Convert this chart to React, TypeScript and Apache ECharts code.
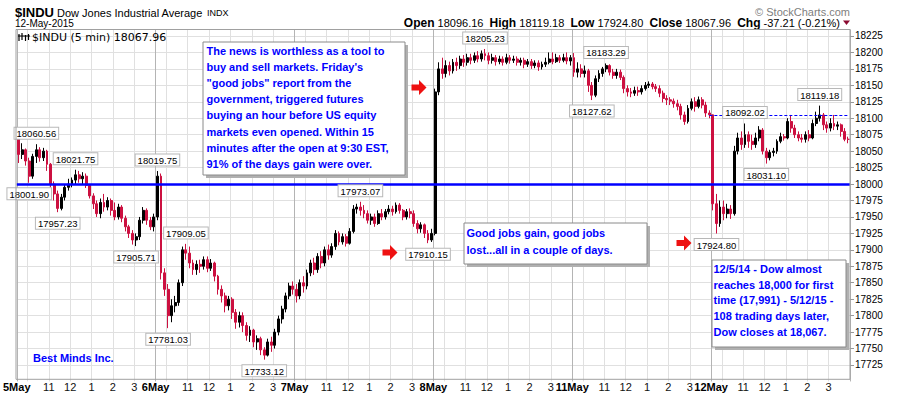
import React, { useEffect, useRef } from 'react';
import * as echarts from 'echarts';

// ---- categories / tick labels ----
const dayLabels = ['5May', '6May', '7May', '8May', '11May', '12May'];
const hourLabels = ['11', '12', '1', '2', '3'];
const hourBarIdx = [9, 15, 21, 27, 33]; // 10-min bars after 9:30 open
const gridBarIdx = [0, 3, 9, 15, 21, 27, 33];
const BARS_PER_DAY = 39;

// ---- 10-minute bars: [open, close, low, high] ----
const may05 = [
  [18070, 18045, 18032, 18070], [18045, 18052, 18038, 18062], [18052, 18035, 18028, 18054], [18035, 18012, 18001.9, 18040],
  [18012, 18042, 18008, 18046], [18042, 18052, 18032, 18060.56], [18052, 18040, 18034, 18056], [18040, 18050, 18035, 18055],
  [18050, 18030, 18020, 18052], [18030, 18000, 17995, 18032], [18000, 17985, 17975, 18004], [17985, 17963, 17957.23, 17990],
  [17963, 17980, 17960, 17985], [17980, 17995, 17975, 18000], [17995, 18000, 17990, 18008], [18000, 18006, 17995, 18010],
  [18006, 18014, 18000, 18021.75], [18014, 18008, 18002, 18020], [18008, 18012, 18000, 18018], [18012, 17998, 17994, 18016],
  [17998, 17982, 17978, 18000], [17982, 17970, 17962, 17986], [17970, 17955, 17950, 17975], [17955, 17972, 17948, 17978],
  [17972, 17965, 17958, 17985], [17965, 17975, 17960, 17980], [17975, 17960, 17952, 17978], [17960, 17950, 17945, 17972],
  [17950, 17965, 17946, 17970], [17965, 17948, 17942, 17968], [17948, 17935, 17928, 17952], [17935, 17925, 17918, 17938],
  [17925, 17915, 17908, 17930], [17915, 17920, 17905.71, 17925], [17920, 17945, 17915, 17950], [17945, 17960, 17940, 17965],
  [17960, 17945, 17938, 17963], [17945, 17935, 17930, 17950], [17935, 17950, 17928, 17955],
];
const may06 = [
  [17950, 18012, 17945, 18019.75], [18012, 17865, 17855, 18016], [17865, 17840, 17830, 17872], [17840, 17800, 17781.03, 17848],
  [17800, 17815, 17790, 17825], [17815, 17820, 17805, 17830], [17820, 17850, 17815, 17855], [17850, 17900, 17845, 17905],
  [17900, 17895, 17885, 17909.05], [17895, 17880, 17872, 17905], [17880, 17870, 17862, 17885], [17870, 17878, 17862, 17884],
  [17878, 17875, 17865, 17885], [17875, 17885, 17870, 17890], [17885, 17872, 17866, 17890], [17872, 17880, 17868, 17886],
  [17880, 17860, 17852, 17882], [17860, 17840, 17832, 17862], [17840, 17830, 17820, 17846], [17830, 17815, 17805, 17835],
  [17815, 17825, 17808, 17830], [17825, 17805, 17795, 17828], [17805, 17790, 17780, 17810], [17790, 17800, 17782, 17806],
  [17800, 17785, 17775, 17805], [17785, 17770, 17762, 17790], [17770, 17778, 17760, 17784], [17778, 17760, 17752, 17780],
  [17760, 17765, 17748, 17770], [17765, 17748, 17740, 17768], [17748, 17740, 17733.12, 17752], [17740, 17760, 17738, 17765],
  [17760, 17755, 17745, 17768], [17755, 17775, 17750, 17780], [17775, 17795, 17770, 17800], [17795, 17810, 17788, 17815],
  [17810, 17830, 17805, 17835], [17830, 17845, 17825, 17850], [17845, 17840, 17832, 17852],
];
const may07 = [
  [17840, 17830, 17820, 17848], [17830, 17850, 17825, 17855], [17850, 17845, 17835, 17860], [17845, 17865, 17840, 17870],
  [17865, 17880, 17860, 17885], [17880, 17870, 17862, 17888], [17870, 17890, 17865, 17895], [17890, 17880, 17872, 17898],
  [17880, 17900, 17875, 17905], [17900, 17892, 17885, 17908], [17892, 17905, 17888, 17910], [17905, 17925, 17900, 17930],
  [17925, 17912, 17907, 17928], [17912, 17920, 17908, 17925], [17920, 17910, 17905, 17924], [17910, 17928, 17908, 17933],
  [17928, 17962, 17925, 17968], [17962, 17965, 17955, 17970], [17965, 17960, 17952, 17973.07], [17960, 17955, 17948, 17968],
  [17955, 17945, 17940, 17960], [17945, 17950, 17938, 17955], [17950, 17940, 17935, 17955], [17940, 17955, 17938, 17960],
  [17955, 17950, 17945, 17962], [17950, 17958, 17946, 17962], [17958, 17962, 17954, 17968], [17962, 17958, 17952, 17967],
  [17958, 17968, 17955, 17972], [17968, 17960, 17955, 17971], [17960, 17950, 17945, 17962], [17950, 17958, 17946, 17962],
  [17958, 17955, 17948, 17963], [17955, 17940, 17935, 17960], [17940, 17932, 17925, 17945], [17932, 17938, 17926, 17942],
  [17938, 17925, 17918, 17940], [17925, 17915, 17910.15, 17930], [17915, 17925, 17912, 17932],
];
const may08 = [
  [17925, 18140, 17922, 18145], [18140, 18175, 18135, 18185], [18175, 18168, 18160, 18192], [18168, 18180, 18162, 18188],
  [18180, 18172, 18165, 18186], [18172, 18185, 18168, 18190], [18185, 18180, 18172, 18192], [18180, 18190, 18175, 18195],
  [18190, 18185, 18178, 18196], [18185, 18192, 18180, 18198], [18192, 18188, 18182, 18198], [18188, 18195, 18184, 18200],
  [18195, 18190, 18185, 18202], [18190, 18198, 18186, 18203], [18198, 18195, 18188, 18205.23], [18195, 18188, 18182, 18200],
  [18188, 18192, 18183, 18198], [18192, 18186, 18180, 18196], [18186, 18190, 18182, 18195], [18190, 18185, 18180, 18194],
  [18185, 18192, 18182, 18198], [18192, 18188, 18183, 18196], [18188, 18190, 18184, 18195], [18190, 18185, 18180, 18194],
  [18185, 18188, 18180, 18192], [18188, 18182, 18176, 18192], [18182, 18186, 18178, 18190], [18186, 18180, 18175, 18190],
  [18180, 18184, 18176, 18188], [18184, 18178, 18172, 18188], [18178, 18182, 18174, 18186], [18182, 18185, 18178, 18192],
  [18185, 18190, 18182, 18200], [18190, 18186, 18182, 18200], [18186, 18192, 18184, 18198], [18192, 18188, 18184, 18196],
  [18188, 18192, 18185, 18198], [18192, 18187, 18182, 18200], [18187, 18192, 18180, 18196],
];
const may11 = [
  [18192, 18170, 18163, 18199], [18170, 18175, 18162, 18185], [18175, 18168, 18162, 18182], [18168, 18172, 18162, 18180],
  [18172, 18150, 18140, 18175], [18150, 18135, 18127.62, 18155], [18135, 18160, 18132, 18165], [18160, 18168, 18155, 18173],
  [18168, 18175, 18163, 18178], [18175, 18180, 18170, 18183.29], [18180, 18170, 18165, 18182], [18170, 18165, 18160, 18175],
  [18165, 18170, 18160, 18175], [18170, 18162, 18158, 18174], [18162, 18145, 18138, 18165], [18145, 18140, 18133, 18150],
  [18140, 18138, 18132, 18146], [18138, 18142, 18134, 18148], [18142, 18140, 18134, 18148], [18140, 18145, 18136, 18150],
  [18145, 18150, 18142, 18155], [18150, 18152, 18146, 18156], [18152, 18148, 18144, 18155], [18148, 18145, 18140, 18152],
  [18145, 18138, 18132, 18150], [18138, 18130, 18124, 18142], [18130, 18128, 18120, 18135], [18128, 18126, 18120, 18132],
  [18126, 18122, 18116, 18130], [18122, 18118, 18112, 18128], [18118, 18105, 18098, 18122], [18105, 18095, 18090, 18110],
  [18095, 18115, 18092, 18120], [18115, 18125, 18112, 18130], [18125, 18118, 18110, 18132], [18118, 18128, 18115, 18133],
  [18128, 18120, 18115, 18132], [18120, 18108, 18102, 18125], [18108, 18105.17, 18100, 18112],
];
const may12 = [
  [18105.17, 17970, 17960, 18105.17], [17970, 17940, 17924.8, 17985], [17940, 17965, 17935, 17975], [17965, 17955, 17945, 17975],
  [17955, 17962, 17948, 17970], [17962, 17955, 17947, 17968], [17955, 18050, 17952, 18058], [18050, 18070, 18045, 18078],
  [18070, 18060, 18052, 18080], [18060, 18075, 18055, 18092.02], [18075, 18065, 18055, 18080], [18065, 18060, 18052, 18075],
  [18060, 18070, 18055, 18078], [18070, 18082, 18065, 18088], [18082, 18050, 18045, 18085], [18050, 18040, 18031.1, 18055],
  [18040, 18048, 18036, 18052], [18048, 18050, 18042, 18055], [18050, 18065, 18046, 18068], [18065, 18072, 18062, 18078],
  [18072, 18070, 18066, 18076], [18070, 18095, 18068, 18100], [18095, 18085, 18078, 18105], [18085, 18075, 18070, 18090],
  [18075, 18070, 18065, 18080], [18070, 18068, 18063, 18076], [18068, 18075, 18063, 18080], [18075, 18070, 18065, 18082],
  [18070, 18092, 18068, 18098], [18092, 18100, 18088, 18110], [18100, 18105, 18095, 18119.18], [18105, 18090, 18082, 18108],
  [18090, 18085, 18078, 18095], [18085, 18092, 18080, 18100], [18092, 18088, 18082, 18105], [18088, 18090, 18082, 18095],
  [18090, 18080, 18072, 18092], [18080, 18068, 18065, 18085], [18068, 18067.96, 18062, 18072],
];

// swing-point callouts: [bar index, value, side]
const swingIdx = [5, 3, 11, 16, 39, 33, 47, 42, 69, 96, 115, 131, 161, 165, 204, 196, 210, 225];
const swingVal = [18060.56, 18001.9, 17957.23, 18021.75, 18019.75, 17905.71, 17909.05, 17781.03, 17733.12, 17973.07, 17910.15, 18205.23, 18127.62, 18183.29, 18092.02, 17924.8, 18031.1, 18119.18];
const swingSide = ['top', 'bottom', 'bottom', 'top', 'top', 'bottom', 'top', 'bottom', 'bottom', 'top', 'bottom', 'top', 'bottom', 'top', 'top', 'bottom', 'bottom', 'top'];

const keyLevel = 18000;
const prevClose = 18105.17;

const FONT = '"Liberation Sans", Arial, sans-serif';
const BLUE = '#0000ff';
const RED = '#cc1040';

const note1 = [
  'The news is worthless as a tool to',
  'buy and sell markets. Friday\'s',
  '"good jobs" report from the',
  'government, triggered futures',
  'buying an hour before US equity',
  'markets even opened. Within 15',
  'minutes after the open at 9:30 EST,',
  '91% of the days gain were over.',
];
const note2 = ['Good jobs gain, good jobs', 'lost...all in a couple of days.'];
const note3 = [
  '12/5/14 - Dow almost',
  'reaches 18,000 for first',
  'time (17,991) - 5/12/15 -',
  '108 trading days later,',
  'Dow closes at 18,067.',
];

function noteBox(x: number, y: number, w: number, h: number, lines: string[], tx: number, ty: number, lh: number) {
  return [
    { type: 'rect', shape: { x: x + 3, y: y + 3, width: w, height: h }, style: { fill: '#b0b0b0' }, z: 50 },
    { type: 'rect', shape: { x, y, width: w, height: h }, style: { fill: '#fff', stroke: '#8a8a8a', lineWidth: 1 }, z: 51 },
    {
      type: 'text', x: tx, y: ty, z: 52,
      style: { text: lines.join('\n'), fill: BLUE, font: `bold 11px ${FONT}`, lineHeight: lh, verticalAlign: 'top', align: 'left' },
    },
  ];
}

function arrow(cx: number, cy: number) {
  return {
    type: 'polygon', x: cx, y: cy, z: 60,
    shape: { points: [[-7.5, -3], [0, -3], [0, -7.5], [7.5, 0], [0, 7.5], [0, 3], [-7.5, 3]] },
    style: { fill: '#ee1111' },
  };
}

export default function App() {
  const ref = useRef<HTMLDivElement>(null);
  useEffect(() => {
    if (!ref.current) return;
    const chart = echarts.init(ref.current, undefined, { renderer: 'svg' });
    const days = [may05, may06, may07, may08, may11, may12];
    const categories: string[] = [];
    const bars: number[][] = [];
    days.forEach((d, di) => {
      d.forEach((b, k) => {
        const m = 570 + k * 10;
        categories.push(`${dayLabels[di]} ${Math.floor(m / 60)}:${String(m % 60).padStart(2, '0')}`);
        bars.push(b);
      });
    });
    const gridColors = ['#b4b4b4', '#e0e0e0', '#e0e0e0', '#e0e0e0', '#e0e0e0', '#e0e0e0', '#e0e0e0'];

    const option: any = {
      animation: false,
      backgroundColor: '#ffffff',
      grid: { left: 16, width: 834, top: 29.4, height: 352.05, show: false },
      xAxis: {
        type: 'category',
        data: categories,
        boundaryGap: true,
        axisLine: { show: false },
        axisTick: { show: false },
        axisLabel: {
          margin: 0,
          padding: [0, 3.6, 0, 0],
          interval: (i: number) => {
            const k = i % BARS_PER_DAY;
            return k === 0 || hourBarIdx.indexOf(k) >= 0;
          },
          formatter: (_v: string, i: number) => {
            const k = i % BARS_PER_DAY;
            if (k === 0) return `{d|${dayLabels[Math.floor(i / BARS_PER_DAY)]}}`;
            return `{h|${hourLabels[hourBarIdx.indexOf(k)]}}`;
          },
          rich: {
            d: { fontFamily: FONT, fontWeight: 'bold', fontSize: 11, color: '#000' },
            h: { fontFamily: FONT, fontSize: 11, color: '#111' },
          },
        },
        splitLine: {
          show: true,
          interval: (i: number) => gridBarIdx.indexOf(i % BARS_PER_DAY) >= 0,
          lineStyle: { color: gridColors, width: 1 },
        },
      },
      yAxis: {
        type: 'value',
        position: 'right',
        min: 17700,
        max: 18235,
        interval: 25,
        axisLine: { show: false },
        axisTick: { show: true, length: 4, lineStyle: { color: '#999' } },
        axisLabel: {
          showMinLabel: false, showMaxLabel: false, color: '#000', fontSize: 10, fontFamily: FONT, margin: 5,
          formatter: (v: number) => String(v),
        },
        splitLine: { show: true, showMinLine: false, showMaxLine: false, lineStyle: { color: '#e0e0e0' } },
      },
      series: [
        {
          type: 'candlestick',
          data: bars,
          barWidth: 2.4,
          silent: true,
          itemStyle: { color: '#000', color0: RED, borderColor: '#000', borderColor0: RED, borderWidth: 1 },
          markLine: {
            silent: true,
            symbol: ['none', 'none'],
            label: { show: false },
            data: [
              { yAxis: keyLevel, lineStyle: { color: BLUE, width: 2.5, type: 'solid' } },
              [
                { coord: [194, prevClose], lineStyle: { color: BLUE, width: 1, type: [3, 2] } },
                { coord: [233, prevClose] },
              ],
            ],
          },
          markPoint: {
            silent: true,
            symbol: 'circle',
            symbolSize: 1,
            itemStyle: { color: 'rgba(0,0,0,0)' },
            data: swingIdx.map((idx, i) => ({
              coord: [idx, swingVal[i]],
              label: {
                show: true,
                position: swingSide[i],
                distance: 5,
                formatter: swingVal[i].toFixed(2),
                fontFamily: FONT,
                fontSize: 9.5,
                color: '#000',
                backgroundColor: '#fff',
                borderColor: '#b8b8b8',
                borderWidth: 1,
                padding: [1, 2, 0, 2],
              },
            })),
          },
        },
      ],
      graphic: [
        // plot border
        { type: 'rect', shape: { x: 16, y: 29.5, width: 834, height: 349.8 }, style: { fill: 'none', stroke: '#a0a0a0', lineWidth: 1 }, z: 40, silent: true },
        // header
        { type: 'text', x: 15, y: 12, style: { text: '$INDU', font: `bold 13px ${FONT}`, fill: '#000', verticalAlign: 'middle' } },
        { type: 'text', x: 57, y: 12.5, style: { text: 'Dow Jones Industrial Average', font: `11px ${FONT}`, fill: '#000', verticalAlign: 'middle' } },
        { type: 'text', x: 207, y: 12.5, style: { text: 'INDX', font: `9px ${FONT}`, fill: '#000', verticalAlign: 'middle' } },
        { type: 'text', x: 15, y: 23.5, style: { text: '12-May-2015', font: `10px ${FONT}`, fill: '#000', verticalAlign: 'middle' } },
        { type: 'text', x: 850, y: 11.5, style: { text: '© StockCharts.com', font: `11px ${FONT}`, fill: '#808080', align: 'right', verticalAlign: 'middle' } },
        {
          type: 'text', x: 840, y: 23, style: {
            text: '{b|Open} 18096.16  {b|High} 18119.18  {b|Low} 17924.80  {b|Close} 18067.96  {b|Chg} -37.21 (-0.21%)',
            font: `11px ${FONT}`, fill: '#000', align: 'right', verticalAlign: 'middle',
            rich: { b: { font: `bold 12px ${FONT}`, fill: '#000' } },
          },
        },
        { type: 'polygon', shape: { points: [[843, 20.5], [850, 20.5], [846.5, 25]] }, style: { fill: '#8b0a30' } },
        // legend
        { type: 'polyline', shape: { points: [[19, 34], [19, 41]] }, style: { stroke: '#000', lineWidth: 1.2 }, z: 45 },
        { type: 'polyline', shape: { points: [[22, 33], [22, 40]] }, style: { stroke: '#000', lineWidth: 1.2 }, z: 45 },
        { type: 'polyline', shape: { points: [[25.5, 35], [25.5, 41]] }, style: { stroke: '#000', lineWidth: 1.2 }, z: 45 },
        { type: 'polyline', shape: { points: [[28.5, 34], [28.5, 40]] }, style: { stroke: '#000', lineWidth: 1.2 }, z: 45 },
        { type: 'polyline', shape: { points: [[18, 36], [30, 36]] }, style: { stroke: '#000', lineWidth: 1 }, z: 45 },
        { type: 'text', x: 32, y: 37.5, z: 45, style: { text: '$INDU (5 min) 18067.96', font: `11px "DejaVu Sans", sans-serif`, fill: '#000', verticalAlign: 'middle' } },
        // notes
        ...noteBox(203, 42, 202, 133, note1, 206.5, 42.6, 16.2),
        ...noteBox(464, 223, 183, 41, note2, 466.5, 224, 17.3),
        ...noteBox(712, 260, 134, 87, note3, 713.5, 261.2, 15.7),
        { type: 'text', x: 33, y: 358, z: 45, style: { text: 'Best Minds Inc.', font: `bold 11px ${FONT}`, fill: BLUE, verticalAlign: 'middle' } },
        arrow(419, 87.5),
        arrow(390, 252.5),
        arrow(684, 243),
      ],
    };
    chart.setOption(option);
    return () => chart.dispose();
  }, []);
  return <div ref={ref} style={{ position: 'fixed', left: 0, top: 0, width: 899, height: 395, background: '#fff' }} />;
}
